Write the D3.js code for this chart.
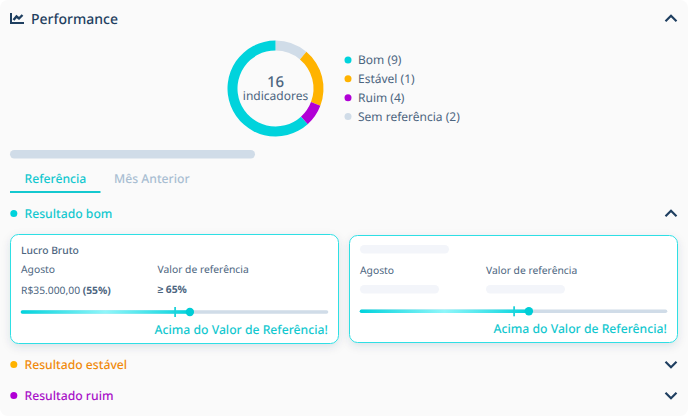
<!DOCTYPE html>
<html>
<head>
<meta charset="utf-8">
<script src="https://cdn.jsdelivr.net/npm/d3@7"></script>
<style>
html, body { margin: 0; padding: 0; background: #fff; }
svg { display: block; font-family: "Noto Sans", sans-serif; text-rendering: geometricPrecision; }
</style>
</head>
<body>
<svg id="chart" width="688" height="416"></svg>
<script>
// legend counts, as printed
var legendNames = ["Bom", "Estável", "Ruim", "Sem referência"];
var legendCounts = [9, 1, 4, 2];
var legendColors = ["#00d3dc", "#ffb300", "#b100d6", "#d0dce8"];

// ring shares, clockwise from the top
var ringNames = ["Sem referência", "Estável", "Ruim", "Bom"];
var ringShares = [1.78, 3.15, 1.2, 9.87];
var ringColors = ["#d0dce8", "#ffb300", "#b100d6", "#00d3dc"];

var totalLabel = "16";
var sliderValues = [55, 55];
var sliderMarks = [50.2, 50.2];

var navy = "#1f3f60";
var slate = "#4c6580";
var teal = "#14c8cf";

var svg = d3.select("#chart");
var defs = svg.append("defs");

var shadow = defs.append("filter").attr("id", "cardShadow")
    .attr("x", "-5%").attr("y", "-10%").attr("width", "110%").attr("height", "125%");
shadow.append("feDropShadow").attr("dx", 0).attr("dy", 3).attr("stdDeviation", 4)
    .attr("flood-color", "#1f3f60").attr("flood-opacity", 0.13);

var grad = defs.append("linearGradient").attr("id", "sliderFill");
[[0, "#00d3dc"], [0.5, "#8ff6fa"], [1, "#00d3dc"]].forEach(s => {
    grad.append("stop").attr("offset", s[0]).attr("stop-color", s[1]);
});

function addText(x, y, str, size, color, weight, anchor) {
    return svg.append("text").attr("x", x).attr("y", y).text(str)
        .attr("font-size", size).attr("fill", color)
        .attr("font-weight", weight || 400)
        .attr("text-anchor", anchor || "start");
}

function chevron(cx, cy, up) {
    var d = up ? -1 : 1;
    svg.append("path")
        .attr("d", `M${cx - 5.5},${cy - d * 2.7}L${cx},${cy + d * 2.7}L${cx + 5.5},${cy - d * 2.7}`)
        .attr("fill", "none").attr("stroke", navy).attr("stroke-width", 2.2);
}

// panel
svg.append("rect").attr("width", 688).attr("height", 416).attr("rx", 8).attr("fill", "#fafafa");

// header
svg.append("path").attr("d", "M11,13V23H24").attr("fill", "none").attr("stroke", navy).attr("stroke-width", 2);
svg.append("path").attr("d", "M13.5,20L16.5,16.5L19,18.5L22.5,15").attr("fill", "none").attr("stroke", navy).attr("stroke-width", 2.4);
addText(31, 24, "Performance", 14, navy, 500);
chevron(671, 18.5, true);

// donut
var pie = d3.pie().sort(null).value(d => d);
var arc = d3.arc().innerRadius(38).outerRadius(48);
var ring = svg.append("g").attr("transform", "translate(275.5,88.5)");
ring.selectAll("path").data(pie(ringShares)).enter().append("path")
    .attr("d", arc)
    .attr("fill", (d, i) => ringColors[i]);
addText(275.5, 86.7, totalLabel, 15, slate, 500, "middle");
addText(275.5, 99.5, "indicadores", 12, slate, 400, "middle");

// legend
var legendY = d3.scalePoint().domain(legendNames).range([60, 116.5]);
legendNames.forEach((name, i) => {
    svg.append("circle").attr("cx", 348).attr("cy", legendY(name)).attr("r", 3.5).attr("fill", legendColors[i]);
    addText(358, legendY(name) + 4.4, `${name} (${legendCounts[i]})`, 12, slate);
});

// placeholder bar and tabs
svg.append("rect").attr("x", 10).attr("y", 150).attr("width", 245).attr("height", 8.5).attr("rx", 4.2).attr("fill", "#d0dce8");
addText(24.5, 183, "Referência", 12.2, teal, 500);
addText(114, 183, "Mês Anterior", 12.2, "#a9bed2", 500);
svg.append("rect").attr("x", 10).attr("y", 191).attr("width", 90.5).attr("height", 2).attr("fill", teal);

// section rows
function sectionRow(y, label, dot, color, up) {
    svg.append("circle").attr("cx", 13.8).attr("cy", y).attr("r", 3.5).attr("fill", dot);
    addText(24.5, y + 4.4, label, 12.2, color, 500);
    chevron(671, y, up);
}
sectionRow(213.5, "Resultado bom", "#00d3dc", teal, true);
sectionRow(364.5, "Resultado estável", "#ffb300", "#f08a0c", false);
sectionRow(395.5, "Resultado ruim", "#b100d6", "#a811c8", false);

// cards
function card(x, y, h, sy, i) {
    svg.append("rect").attr("x", x).attr("y", y).attr("width", 328).attr("height", h).attr("rx", 8)
        .attr("fill", "#fff").attr("stroke", "#2fdfe4").attr("stroke-width", 1)
        .attr("filter", "url(#cardShadow)");

    var sliderX = d3.scaleLinear().domain([0, 100]).range([x + 10.2, x + 317.8]);
    svg.append("rect").attr("x", sliderX(0)).attr("y", sy - 1.8).attr("width", sliderX(100) - sliderX(0)).attr("height", 3.6)
        .attr("rx", 1.8).attr("fill", "#d0dce8");
    svg.append("rect").attr("x", sliderX(0)).attr("y", sy - 1.8).attr("width", sliderX(sliderValues[i]) - sliderX(0)).attr("height", 3.6)
        .attr("rx", 1.8).attr("fill", "url(#sliderFill)");
    svg.append("rect").attr("x", sliderX(sliderMarks[i]) - 0.9).attr("y", sy - 5).attr("width", 1.8).attr("height", 10).attr("fill", "#1fd2d9");
    svg.append("circle").attr("cx", sliderX(sliderValues[i])).attr("cy", sy).attr("r", 4.2).attr("fill", "#00cdd6");
    addText(x + 317.3, sy + 21.5, "Acima do Valor de Referência!", 12.2, teal, 500, "end");
}
card(10.5, 234.5, 109, 312, 0);
card(349.5, 235.5, 107, 311.3, 1);

// left card text
addText(21, 254, "Lucro Bruto", 10.3, slate, 500);
addText(21, 273, "Agosto", 10.3, slate);
addText(157.5, 273, "Valor de referência", 10.3, slate);
var money = addText(21, 293.5, "R$35.000,00 ", 10.3, slate);
money.append("tspan").attr("font-weight", 700).text("(55%)");
addText(157.5, 293, "≥ 65%", 10.3, slate, 700);

// right card text and placeholders
addText(360, 274, "Agosto", 10.3, slate);
addText(486, 274, "Valor de referência", 10.3, slate);
[[360, 245, 89], [360, 285, 79], [486, 285, 79]].forEach(p => {
    svg.append("rect").attr("x", p[0]).attr("y", p[1]).attr("width", p[2]).attr("height", 8.5).attr("rx", 4.2).attr("fill", "#f3f5fa");
});
</script>
</body>
</html>
